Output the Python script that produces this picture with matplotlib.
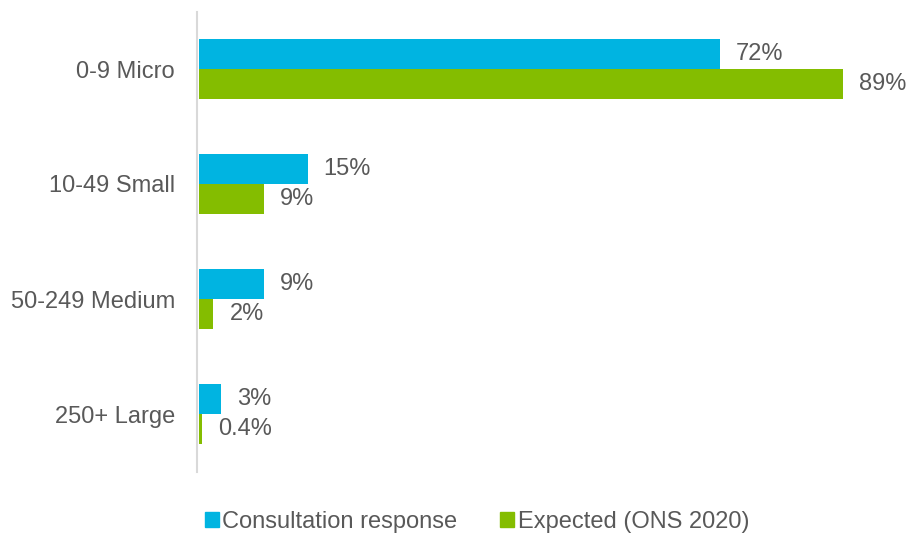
import matplotlib
matplotlib.use("Agg")
import matplotlib.pyplot as plt
from matplotlib.patches import Patch
import numpy as np

categories = ["0-9 Micro", "10-49 Small", "50-249 Medium", "250+ Large"]
consultation = [72, 15, 9, 3]
expected = [89, 9, 2, 0.4]
consultation_labels = ["72%", "15%", "9%", "3%"]
expected_labels = ["89%", "9%", "2%", "0.4%"]
series_names = ["Consultation response", "Expected (ONS 2020)"]

plt.rcParams['font.family'] = ['Liberation Sans', 'DejaVu Sans']
W, H = 908, 536
fig = plt.figure(figsize=(W/100, H/100), dpi=100)
ax = fig.add_axes([199/W, 1 - 471.5/H, (W-199)/W, 460/H])

cyan = "#00B4E1"
green = "#84BD00"
txt = "#595959"
fs = 17

for s in ['top', 'right', 'bottom']:
    ax.spines[s].set_visible(False)
ax.spines['left'].set_color('#D9D9D9')
ax.spines['left'].set_linewidth(1.5)
ax.spines['left'].set_position(('outward', 1.2))

y = np.arange(len(categories))
h = 30/115
ax.barh(y - h/2, consultation, height=h, color=cyan, zorder=3)
ax.barh(y + h/2, expected, height=h, color=green, zorder=3)
for yi, v, lab in zip(y, consultation, consultation_labels):
    ax.text(v + 2.2, yi - h/2, lab, va='center', ha='left', fontsize=fs, color=txt)
for yi, v, lab in zip(y, expected, expected_labels):
    ax.text(v + 2.2, yi + h/2, lab, va='center', ha='left', fontsize=fs, color=txt)

ax.set_ylim(3.5, -0.5)
ax.set_xlim(0, (W-199)/7.236)
ax.set_yticks(y)
ax.set_yticklabels(categories, fontsize=fs, color=txt)
ax.tick_params(axis='y', length=0, pad=16)
ax.set_xticks([])

handles = [Patch(color=cyan), Patch(color=green)]
fig.legend(handles, series_names, loc='center', bbox_to_anchor=(477/W, 1 - 522/H),
           ncol=2, frameon=False, fontsize=fs, handlelength=0.6, handleheight=0.6,
           handletextpad=0.15, columnspacing=1.8, labelcolor=txt)

fig.savefig("out.png", dpi=100)
